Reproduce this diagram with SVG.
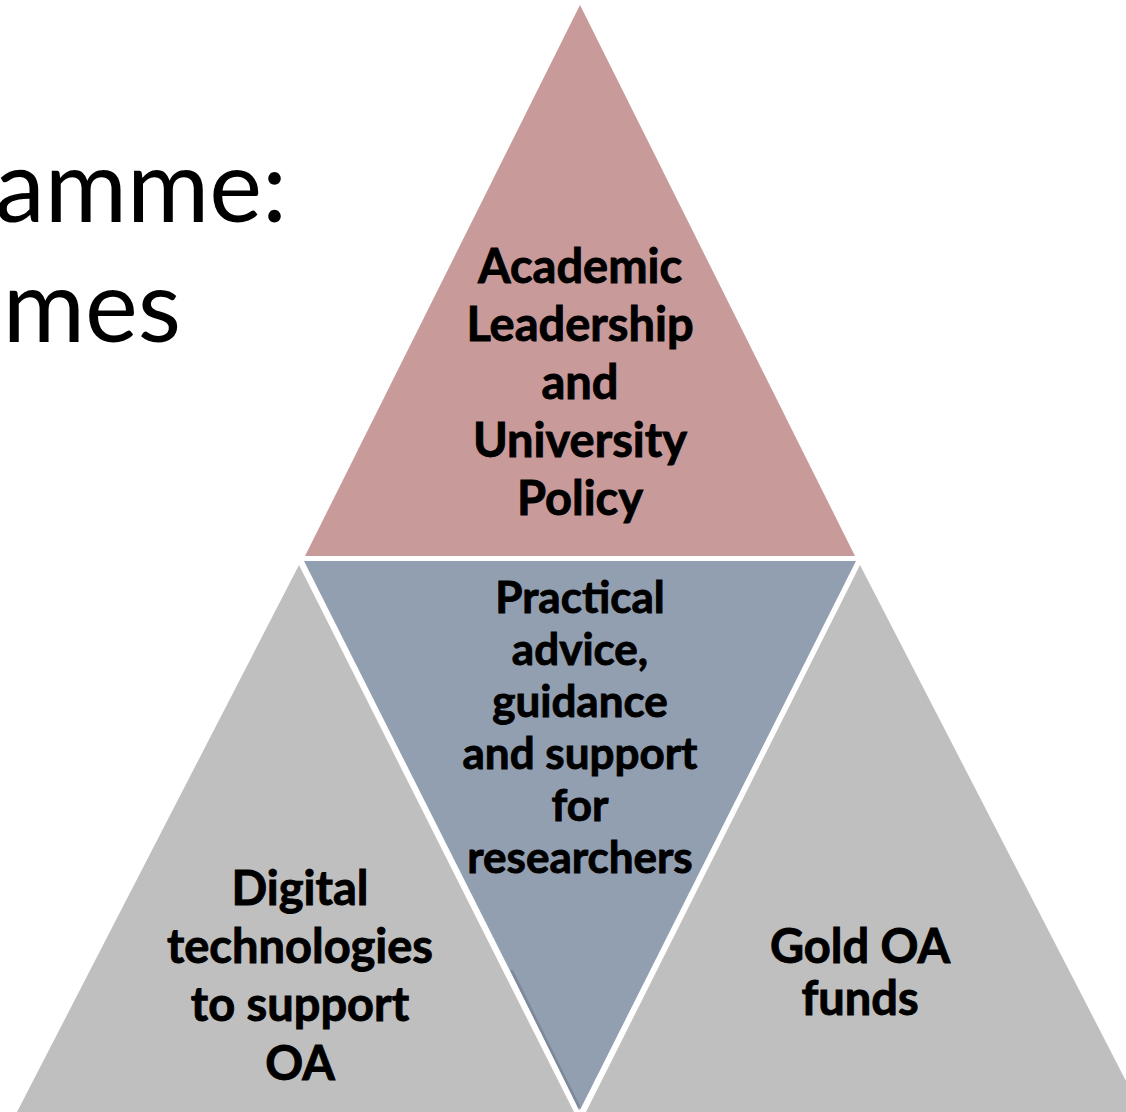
<svg xmlns="http://www.w3.org/2000/svg" width="1126" height="1112" viewBox="0 0 1126 1112">
<style>
.t{font-family:Lato,"Liberation Sans",sans-serif;font-weight:bold;fill:#000;stroke:#000;stroke-width:0.9;text-anchor:middle}
.big{font-size:47px}
.mid{font-size:44px}
.rt{font-size:47px}
.title{font-family:Lato,"Liberation Sans",sans-serif;font-size:100px;fill:#000;text-anchor:end}
</style>
<rect width="1126" height="1112" fill="#fff"/>
<g id="title">
<text class="title" x="287" y="222">amme:</text>
<text class="title" x="181" y="342">mes</text>
</g>
<g id="left">
<polygon points="299,565 17,1112 574,1112" fill="#BFBFBF"/>
<text class="t big" x="300"><tspan x="300" y="905">Digital</tspan><tspan x="300" y="963">technologies</tspan><tspan x="300" y="1021">to support</tspan><tspan x="300" y="1080">OA</tspan></text>
</g>
<g id="right">
<polygon points="860,565 586,1112 1142,1112" fill="#BFBFBF"/>
<text class="t rt" x="860"><tspan x="860" y="963">Gold OA</tspan><tspan x="860" y="1015">funds</tspan></text>
</g>
<g id="top">
<polygon points="580,5 855,556 305,556" fill="#C99A9A"/>
<text class="t big" x="580"><tspan x="580" y="283">Academic</tspan><tspan x="580" y="341">Leadership</tspan><tspan x="580" y="399">and</tspan><tspan x="580" y="457">University</tspan><tspan x="580" y="515">Policy</tspan></text>
</g>
<g id="middle">
<polygon points="304,561 856,561 580,1110" fill="#929FB1"/>
<polygon points="510,970 513,970 580,1106 579,1110" fill="#7D899B"/>
<text class="t mid" x="580"><tspan x="580" y="613">Practical</tspan><tspan x="580" y="665">advice,</tspan><tspan x="580" y="717">guidance</tspan><tspan x="580" y="769">and support</tspan><tspan x="580" y="821">for</tspan><tspan x="580" y="873">researchers</tspan></text>
</g>
<g id="connectors"/>
</svg>
